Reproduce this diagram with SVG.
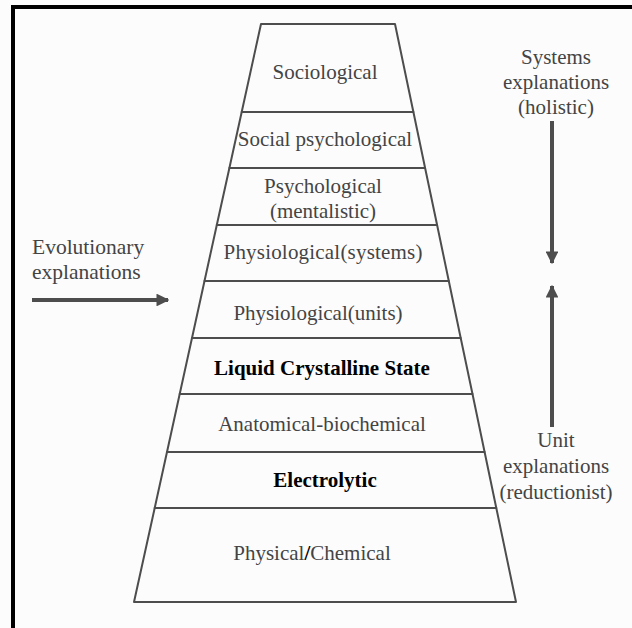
<svg xmlns="http://www.w3.org/2000/svg" width="632" height="628" viewBox="0 0 632 628">
  <style>
    .band { fill: none; stroke: #4d4d4d; stroke-width: 2; stroke-linejoin: round; }
    .lbl { font-family: "Liberation Serif", "Times New Roman", serif; font-size: 21px; fill: #444; text-anchor: middle; }
    .side { font-family: "Liberation Serif", "Times New Roman", serif; font-size: 21.5px; fill: #444; }
    .bold { font-weight: bold; fill: #000; font-size: 21px; }
    .arrow { stroke: #4d4d4d; stroke-width: 4; fill: none; }
  </style>
  <defs>
    <marker id="head" viewBox="0 0 10 10" refX="9" refY="5" markerWidth="3.2" markerHeight="3.2" orient="auto" markerUnits="strokeWidth">
      <path d="M0,0 L10,5 L0,10 Z" fill="#4d4d4d"/>
    </marker>
  </defs>

  <!-- page -->
  <rect x="0" y="0" width="632" height="628" fill="#fcfcfc"/>
  <path d="M13,628 V7 H632" fill="none" stroke="#000" stroke-width="4"/>

  <!-- levels of the pyramid, top to bottom -->
  <g id="sociological">
    <polygon class="band" points="261,24 395,24 413.4,112 241.7,112"/>
    <text class="lbl" x="325" y="79">Sociological</text>
  </g>
  <g id="social-psychological">
    <polygon class="band" points="241.7,112 413.4,112 425.1,168 229.4,168"/>
    <text class="lbl" x="325" y="146">Social psychological</text>
  </g>
  <g id="psychological">
    <polygon class="band" points="229.4,168 425.1,168 437.1,225 216.8,225"/>
    <text class="lbl" x="323" y="193">Psychological</text>
    <text class="lbl" x="323" y="218">(mentalistic)</text>
  </g>
  <g id="physiological-systems">
    <polygon class="band" points="216.8,225 437.1,225 448.8,281 204.5,281"/>
    <text class="lbl" x="323" y="259" textLength="199">Physiological(systems)</text>
  </g>
  <g id="physiological-units">
    <polygon class="band" points="204.5,281 448.8,281 460.7,338 192,338"/>
    <text class="lbl" x="318" y="320">Physiological(units)</text>
  </g>
  <g id="liquid-crystalline">
    <polygon class="band" points="192,338 460.7,338 472.5,394 179.7,394"/>
    <text class="lbl bold" x="322" y="375">Liquid Crystalline State</text>
  </g>
  <g id="anatomical-biochemical">
    <polygon class="band" points="179.7,394 472.5,394 484.6,452 167,452"/>
    <text class="lbl" x="322" y="431">Anatomical-biochemical</text>
  </g>
  <g id="electrolytic">
    <polygon class="band" points="167,452 484.6,452 496.3,508 154.7,508"/>
    <text class="lbl bold" x="325" y="487" font-size="22">Electrolytic</text>
  </g>
  <g id="physical-chemical">
    <polygon class="band" points="154.7,508 496.3,508 516,602 134,602"/>
    <text class="lbl" x="312" y="560">Physical<tspan fill="#000" font-weight="bold">/</tspan>Chemical</text>
  </g>

  <!-- side labels -->
  <g id="evolutionary">
    <text class="side" x="32" y="254">Evolutionary</text>
    <text class="side" x="32" y="279">explanations</text>
  </g>
  <g id="systems">
    <text class="lbl" x="556" y="64" font-size="22">Systems</text>
    <text class="lbl" x="556" y="89" font-size="22">explanations</text>
    <text class="lbl" x="556" y="114" font-size="22">(holistic)</text>
  </g>
  <g id="unit">
    <text class="lbl" x="556" y="447" font-size="22">Unit</text>
    <text class="lbl" x="556" y="473" font-size="22">explanations</text>
    <text class="lbl" x="556" y="499" font-size="22">(reductionist)</text>
  </g>

  <!-- connectors -->
  <g id="connectors">
    <line class="arrow" x1="32" y1="300" x2="168" y2="300" marker-end="url(#head)"/>
    <line class="arrow" x1="552" y1="121" x2="552" y2="263" marker-end="url(#head)"/>
    <line class="arrow" x1="552" y1="427" x2="552" y2="286" marker-end="url(#head)"/>
  </g>
</svg>
